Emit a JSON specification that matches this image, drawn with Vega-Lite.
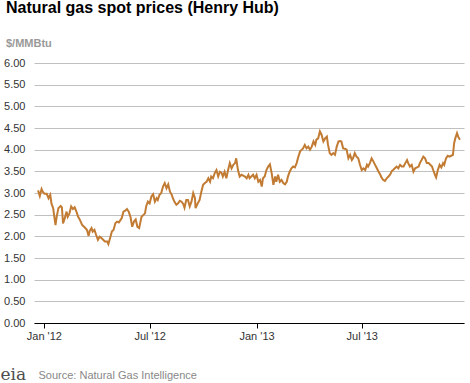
{
  "$schema": "https://vega.github.io/schema/vega-lite/v6.json",
  "width": 430,
  "height": 260,
  "autosize": "none",
  "padding": {"left": 34, "top": 63, "right": 6, "bottom": 60},
  "background": "#ffffff",
  "config": {"view": {"stroke": null}, "font": "Liberation Sans"},
  "title": {
    "text": "Natural gas spot prices (Henry Hub)",
    "subtitle": "$/MMBtu",
    "anchor": "start",
    "frame": "group",
    "dx": -28,
    "offset": 8,
    "font": "Liberation Sans",
    "fontSize": 16,
    "fontWeight": "bold",
    "color": "#000000",
    "subtitleFont": "Liberation Sans",
    "subtitleFontSize": 11,
    "subtitleFontWeight": "bold",
    "subtitleColor": "#999999",
    "subtitlePadding": 22
  },
  "data": {"values": [
    {"date":"2011-12-22","price":3.06},{"date":"2011-12-25","price":2.93},{"date":"2011-12-28","price":3.09},{"date":"2011-12-30","price":3.03},
    {"date":"2012-01-02","price":2.98},{"date":"2012-01-06","price":2.98},{"date":"2012-01-09","price":2.88},{"date":"2012-01-12","price":2.96},
    {"date":"2012-01-14","price":2.76},{"date":"2012-01-17","price":2.65},{"date":"2012-01-19","price":2.45},{"date":"2012-01-21","price":2.26},
    {"date":"2012-01-23","price":2.45},{"date":"2012-01-26","price":2.65},{"date":"2012-01-30","price":2.70},{"date":"2012-02-01","price":2.67},
    {"date":"2012-02-03","price":2.30},{"date":"2012-02-06","price":2.42},{"date":"2012-02-09","price":2.57},{"date":"2012-02-11","price":2.45},
    {"date":"2012-02-14","price":2.53},{"date":"2012-02-17","price":2.69},{"date":"2012-02-20","price":2.63},{"date":"2012-02-23","price":2.67},
    {"date":"2012-02-26","price":2.57},{"date":"2012-02-29","price":2.45},{"date":"2012-03-03","price":2.38},{"date":"2012-03-07","price":2.26},
    {"date":"2012-03-11","price":2.21},{"date":"2012-03-15","price":2.15},{"date":"2012-03-18","price":2.01},{"date":"2012-03-20","price":2.13},
    {"date":"2012-03-23","price":2.19},{"date":"2012-03-25","price":2.11},{"date":"2012-03-28","price":2.15},{"date":"2012-03-31","price":2.03},
    {"date":"2012-04-03","price":1.92},{"date":"2012-04-06","price":1.99},{"date":"2012-04-09","price":1.96},{"date":"2012-04-12","price":1.92},
    {"date":"2012-04-15","price":1.88},{"date":"2012-04-19","price":1.88},{"date":"2012-04-21","price":1.82},{"date":"2012-04-24","price":1.96},
    {"date":"2012-04-27","price":2.11},{"date":"2012-04-30","price":2.15},{"date":"2012-05-03","price":2.30},{"date":"2012-05-06","price":2.34},
    {"date":"2012-05-09","price":2.32},{"date":"2012-05-12","price":2.38},{"date":"2012-05-14","price":2.42},{"date":"2012-05-17","price":2.57},
    {"date":"2012-05-20","price":2.59},{"date":"2012-05-23","price":2.63},{"date":"2012-05-26","price":2.57},{"date":"2012-05-29","price":2.45},
    {"date":"2012-06-01","price":2.22},{"date":"2012-06-04","price":2.34},{"date":"2012-06-07","price":2.39},{"date":"2012-06-10","price":2.22},
    {"date":"2012-06-13","price":2.19},{"date":"2012-06-17","price":2.45},{"date":"2012-06-20","price":2.49},{"date":"2012-06-23","price":2.53},
    {"date":"2012-06-25","price":2.69},{"date":"2012-06-28","price":2.80},{"date":"2012-07-01","price":2.76},{"date":"2012-07-04","price":2.92},
    {"date":"2012-07-07","price":2.97},{"date":"2012-07-10","price":2.80},{"date":"2012-07-13","price":2.88},{"date":"2012-07-15","price":2.84},
    {"date":"2012-07-18","price":2.96},{"date":"2012-07-21","price":3.00},{"date":"2012-07-24","price":3.15},{"date":"2012-07-27","price":3.23},
    {"date":"2012-07-30","price":3.11},{"date":"2012-08-02","price":3.20},{"date":"2012-08-05","price":3.03},{"date":"2012-08-08","price":2.96},
    {"date":"2012-08-10","price":2.88},{"date":"2012-08-13","price":2.79},{"date":"2012-08-16","price":2.73},{"date":"2012-08-19","price":2.76},
    {"date":"2012-08-22","price":2.82},{"date":"2012-08-25","price":2.80},{"date":"2012-08-28","price":2.74},{"date":"2012-08-30","price":2.66},
    {"date":"2012-09-02","price":2.84},{"date":"2012-09-05","price":2.84},{"date":"2012-09-08","price":2.69},{"date":"2012-09-11","price":2.80},
    {"date":"2012-09-14","price":3.00},{"date":"2012-09-17","price":2.88},{"date":"2012-09-18","price":2.65},{"date":"2012-09-21","price":2.74},
    {"date":"2012-09-25","price":2.84},{"date":"2012-09-28","price":3.03},{"date":"2012-10-01","price":3.19},{"date":"2012-10-04","price":3.23},
    {"date":"2012-10-07","price":3.26},{"date":"2012-10-10","price":3.34},{"date":"2012-10-13","price":3.26},{"date":"2012-10-15","price":3.38},
    {"date":"2012-10-18","price":3.34},{"date":"2012-10-21","price":3.46},{"date":"2012-10-24","price":3.53},{"date":"2012-10-27","price":3.38},
    {"date":"2012-10-30","price":3.49},{"date":"2012-11-02","price":3.46},{"date":"2012-11-04","price":3.38},{"date":"2012-11-07","price":3.49},
    {"date":"2012-11-10","price":3.34},{"date":"2012-11-13","price":3.53},{"date":"2012-11-16","price":3.69},{"date":"2012-11-19","price":3.57},
    {"date":"2012-11-22","price":3.65},{"date":"2012-11-25","price":3.69},{"date":"2012-11-27","price":3.80},{"date":"2012-11-30","price":3.53},
    {"date":"2012-12-03","price":3.38},{"date":"2012-12-06","price":3.42},{"date":"2012-12-09","price":3.40},{"date":"2012-12-12","price":3.38},
    {"date":"2012-12-15","price":3.34},{"date":"2012-12-18","price":3.42},{"date":"2012-12-20","price":3.34},{"date":"2012-12-23","price":3.38},
    {"date":"2012-12-26","price":3.42},{"date":"2012-12-29","price":3.34},{"date":"2013-01-01","price":3.42},{"date":"2013-01-04","price":3.26},
    {"date":"2013-01-07","price":3.30},{"date":"2013-01-10","price":3.15},{"date":"2013-01-12","price":3.34},{"date":"2013-01-15","price":3.38},
    {"date":"2013-01-18","price":3.53},{"date":"2013-01-21","price":3.61},{"date":"2013-01-24","price":3.66},{"date":"2013-01-27","price":3.46},
    {"date":"2013-01-30","price":3.19},{"date":"2013-02-02","price":3.38},{"date":"2013-02-04","price":3.26},{"date":"2013-02-07","price":3.42},
    {"date":"2013-02-10","price":3.26},{"date":"2013-02-13","price":3.30},{"date":"2013-02-16","price":3.23},{"date":"2013-02-19","price":3.20},
    {"date":"2013-02-22","price":3.26},{"date":"2013-02-24","price":3.38},{"date":"2013-02-27","price":3.49},{"date":"2013-03-02","price":3.57},
    {"date":"2013-03-05","price":3.61},{"date":"2013-03-08","price":3.59},{"date":"2013-03-11","price":3.69},{"date":"2013-03-14","price":3.84},
    {"date":"2013-03-17","price":3.96},{"date":"2013-03-20","price":4.00},{"date":"2013-03-22","price":4.03},{"date":"2013-03-25","price":4.11},
    {"date":"2013-03-28","price":4.03},{"date":"2013-03-31","price":4.07},{"date":"2013-04-03","price":4.00},{"date":"2013-04-06","price":4.07},
    {"date":"2013-04-09","price":4.19},{"date":"2013-04-12","price":4.11},{"date":"2013-04-14","price":4.23},{"date":"2013-04-17","price":4.26},
    {"date":"2013-04-20","price":4.42},{"date":"2013-04-23","price":4.34},{"date":"2013-04-26","price":4.19},{"date":"2013-04-29","price":4.26},
    {"date":"2013-05-02","price":4.30},{"date":"2013-05-04","price":4.11},{"date":"2013-05-07","price":3.92},{"date":"2013-05-10","price":3.88},
    {"date":"2013-05-13","price":3.92},{"date":"2013-05-16","price":3.88},{"date":"2013-05-19","price":4.07},{"date":"2013-05-22","price":4.19},
    {"date":"2013-05-25","price":4.20},{"date":"2013-05-27","price":4.19},{"date":"2013-05-30","price":4.03},{"date":"2013-06-02","price":4.02},
    {"date":"2013-06-05","price":4.00},{"date":"2013-06-08","price":3.80},{"date":"2013-06-11","price":3.88},{"date":"2013-06-14","price":3.76},
    {"date":"2013-06-16","price":3.80},{"date":"2013-06-19","price":3.92},{"date":"2013-06-22","price":3.84},{"date":"2013-06-25","price":3.80},
    {"date":"2013-06-28","price":3.65},{"date":"2013-07-01","price":3.53},{"date":"2013-07-04","price":3.57},{"date":"2013-07-07","price":3.53},
    {"date":"2013-07-10","price":3.65},{"date":"2013-07-12","price":3.61},{"date":"2013-07-15","price":3.69},{"date":"2013-07-18","price":3.80},
    {"date":"2013-07-21","price":3.73},{"date":"2013-07-24","price":3.65},{"date":"2013-07-27","price":3.57},{"date":"2013-07-30","price":3.49},
    {"date":"2013-08-02","price":3.42},{"date":"2013-08-04","price":3.36},{"date":"2013-08-07","price":3.30},{"date":"2013-08-10","price":3.28},
    {"date":"2013-08-13","price":3.34},{"date":"2013-08-16","price":3.38},{"date":"2013-08-19","price":3.43},{"date":"2013-08-22","price":3.51},
    {"date":"2013-08-24","price":3.53},{"date":"2013-08-27","price":3.57},{"date":"2013-08-30","price":3.61},{"date":"2013-09-02","price":3.57},
    {"date":"2013-09-05","price":3.65},{"date":"2013-09-08","price":3.61},{"date":"2013-09-11","price":3.61},{"date":"2013-09-14","price":3.69},
    {"date":"2013-09-17","price":3.76},{"date":"2013-09-19","price":3.69},{"date":"2013-09-22","price":3.61},{"date":"2013-09-25","price":3.65},
    {"date":"2013-09-28","price":3.49},{"date":"2013-10-01","price":3.57},{"date":"2013-10-04","price":3.59},{"date":"2013-10-07","price":3.61},
    {"date":"2013-10-09","price":3.69},{"date":"2013-10-12","price":3.76},{"date":"2013-10-15","price":3.84},{"date":"2013-10-18","price":3.80},
    {"date":"2013-10-21","price":3.69},{"date":"2013-10-24","price":3.69},{"date":"2013-10-27","price":3.65},{"date":"2013-10-30","price":3.61},
    {"date":"2013-11-01","price":3.53},{"date":"2013-11-04","price":3.42},{"date":"2013-11-06","price":3.36},{"date":"2013-11-09","price":3.53},
    {"date":"2013-11-12","price":3.65},{"date":"2013-11-15","price":3.59},{"date":"2013-11-18","price":3.69},{"date":"2013-11-20","price":3.65},
    {"date":"2013-11-23","price":3.80},{"date":"2013-11-26","price":3.86},{"date":"2013-11-29","price":3.84},{"date":"2013-12-02","price":3.86},
    {"date":"2013-12-05","price":3.88},{"date":"2013-12-07","price":4.15},{"date":"2013-12-09","price":4.26},{"date":"2013-12-12","price":4.38},
    {"date":"2013-12-14","price":4.30},{"date":"2013-12-17","price":4.23}
  ]},
  "mark": {"type": "line", "color": "#c27b33", "strokeWidth": 2, "interpolate": "linear"},
  "encoding": {
    "x": {
      "field": "date",
      "type": "temporal",
      "scale": {"type": "utc", "domain": [{"year": 2011, "month": 12, "date": 15, "utc": true}, {"year": 2013, "month": 12, "date": 24, "utc": true}]},
      "axis": {
        "values": [
          {"year": 2012, "month": 1, "date": 1, "utc": true},
          {"year": 2012, "month": 7, "date": 1, "utc": true},
          {"year": 2013, "month": 1, "date": 1, "utc": true},
          {"year": 2013, "month": 7, "date": 1, "utc": true}
        ],
        "labelExpr": "utcFormat(datum.value, \"%b '%y\")",
        "grid": false,
        "domainColor": "#000000",
        "domainWidth": 1,
        "tickColor": "#000000",
        "tickSize": 5,
        "labelFont": "Liberation Sans",
        "labelFontSize": 11,
        "labelColor": "#333333",
        "labelPadding": 2,
        "title": "Source: Natural Gas Intelligence",
        "titleX": 4,
        "titleY": 55,
        "titleAlign": "left",
        "titleBaseline": "alphabetic",
        "titleFont": "Liberation Sans",
        "titleFontSize": 11,
        "titleFontWeight": "normal",
        "titleColor": "#888888"
      }
    },
    "y": {
      "field": "price",
      "type": "quantitative",
      "scale": {"domain": [0, 6], "nice": false, "zero": true},
      "axis": {
        "values": [0, 0.5, 1, 1.5, 2, 2.5, 3, 3.5, 4, 4.5, 5, 5.5, 6],
        "format": ".2f",
        "grid": true,
        "gridColor": "#c0c0c0",
        "gridWidth": 1,
        "domain": false,
        "ticks": false,
        "labelFont": "Liberation Sans",
        "labelFontSize": 11,
        "labelColor": "#333333",
        "labelPadding": 9,
        "title": "eia",
        "titleAngle": 0,
        "titleX": -34,
        "titleY": 316,
        "titleAlign": "left",
        "titleBaseline": "alphabetic",
        "titleFont": "DejaVu Serif",
        "titleFontSize": 17,
        "titleFontWeight": "normal",
        "titleColor": "#4d4d4d"
      }
    }
  }
}
